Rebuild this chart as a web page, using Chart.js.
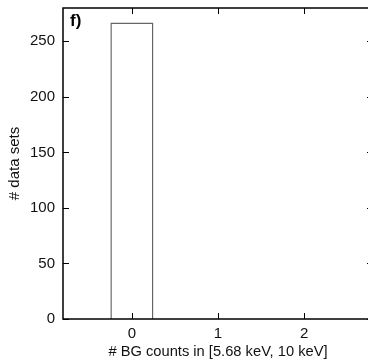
<!DOCTYPE html>
<html>
<head>
<meta charset="utf-8">
<script src="https://cdn.jsdelivr.net/npm/chart.js@4"></script>
<style>
  html, body { margin: 0; padding: 0; background: #fff; overflow: hidden; }
  #wrap { width: 376px; height: 361px; }
</style>
</head>
<body>
<div id="wrap"><canvas id="histChart" width="376" height="361"></canvas></div>
<script>
// histogram data
const bgCounts = [0, 1, 2];
const numDataSets = [267, 0, 0];
const xTicks = [0, 1, 2];
const yTicks = [0, 50, 100, 150, 200, 250];

const FONT = "'Liberation Sans', Arial, sans-serif";

// inward tick marks on all four sides + frame
const frameTicks = {
    id: 'frameTicks',
    afterDraw(chart) {
        const ctx = chart.ctx;
        const a = chart.chartArea;
        const xs = chart.scales.x, ys = chart.scales.y;
        ctx.save();
        ctx.strokeStyle = '#000';
        ctx.lineWidth = 1.5;
        ctx.strokeRect(a.left, a.top, a.right - a.left, a.bottom - a.top);
        ctx.lineWidth = 1;
        ctx.beginPath();
        xTicks.forEach(v => {
            const px = Math.round(xs.getPixelForValue(v)) + 0.5;
            ctx.moveTo(px, a.bottom); ctx.lineTo(px, a.bottom - 6);
            ctx.moveTo(px, a.top); ctx.lineTo(px, a.top + 6);
        });
        yTicks.forEach(v => {
            const py = Math.round(ys.getPixelForValue(v)) + 0.5;
            ctx.moveTo(a.left, py); ctx.lineTo(a.left + 6, py);
            ctx.moveTo(a.right, py); ctx.lineTo(a.right - 6, py);
        });
        ctx.stroke();
        // panel label
        ctx.fillStyle = '#000';
        ctx.font = "bold 17px " + FONT;
        ctx.textBaseline = 'top';
        ctx.fillText('f)', a.left + 7, a.top + 5);
        ctx.restore();
    }
};

new Chart(document.getElementById('histChart'), {
    type: 'bar',
    data: {
        datasets: [{
            data: bgCounts.map((x, i) => ({ x: x, y: numDataSets[i] })),
            backgroundColor: '#fff',
            borderColor: '#666',
            borderWidth: 1.5,
            barPercentage: 0.5,
            categoryPercentage: 1.0
        }]
    },
    options: {
        responsive: false,
        animation: false,
        layout: { padding: { top: 8, right: 3, left: 0, bottom: 0 } },
        plugins: { legend: { display: false }, tooltip: { enabled: false } },
        scales: {
            x: {
                type: 'linear',
                offset: false,
                min: -0.8,
                max: 2.8,
                afterBuildTicks: s => { s.ticks = xTicks.map(v => ({ value: v })); },
                afterFit: s => { s.height = 42; s.paddingLeft = 0; s.paddingRight = 0; },
                grid: { display: false, drawTicks: false, offset: false },
                border: { display: false },
                ticks: { color: '#111', padding: 6, font: { family: FONT, size: 15 } },
                title: {
                    display: true,
                    text: '# BG counts in [5.68 keV, 10 keV]',
                    color: '#111',
                    padding: { top: 0, bottom: 0 },
                    font: { family: FONT, size: 14.7 }
                }
            },
            y: {
                min: 0,
                max: 280,
                afterBuildTicks: s => { s.ticks = yTicks.map(v => ({ value: v })); },
                afterFit: s => { s.width = 63; s.paddingTop = 0; s.paddingBottom = 0; },
                grid: { display: false, drawTicks: false },
                border: { display: false },
                ticks: { color: '#111', padding: 8, font: { family: FONT, size: 15 } },
                title: {
                    display: true,
                    text: '# data sets',
                    color: '#111',
                    padding: { top: 6, bottom: 0 },
                    font: { family: FONT, size: 15 }
                }
            }
        }
    },
    plugins: [frameTicks]
});
</script>
</body>
</html>
